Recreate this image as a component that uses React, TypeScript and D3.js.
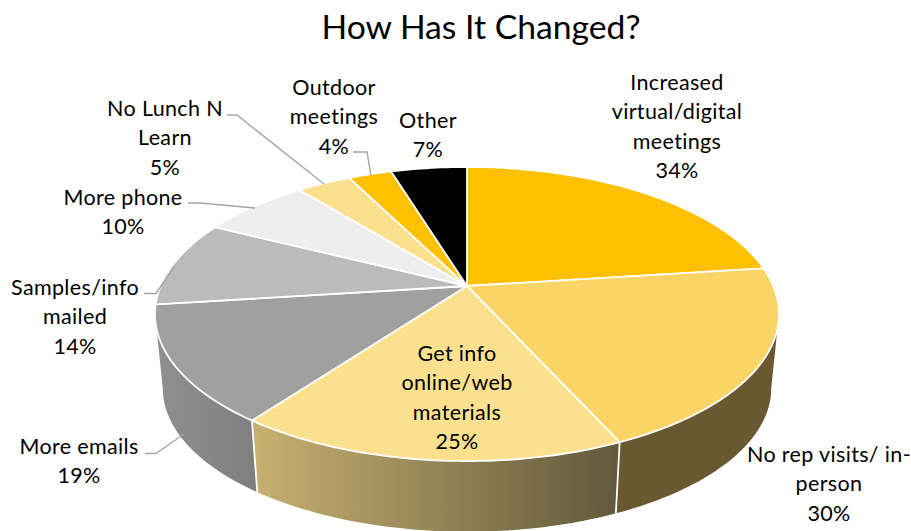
import React from "react";
import * as d3 from "d3";

const WIDTH = 911;
const HEIGHT = 531;

// Survey answers, in clockwise order from twelve o'clock
const categories = [
  "Increased virtual/digital meetings",
  "No rep visits/ in-person",
  "Get info online/web materials",
  "More emails",
  "Samples/info mailed",
  "More phone",
  "No Lunch N Learn",
  "Outdoor meetings",
  "Other",
];
const percents = [34, 30, 25, 19, 14, 10, 5, 4, 7];
const labelLines = [
  ["Increased", "virtual/digital", "meetings"],
  ["No rep visits/ in-", "person"],
  ["Get info", "online/web", "materials"],
  ["More emails"],
  ["Samples/info", "mailed"],
  ["More phone"],
  ["No Lunch N", "Learn"],
  ["Outdoor", "meetings"],
  ["Other"],
];

// Face colours per slice
const topColors = ["#FFC000", "#FAD566", "#FBE08D", "#A0A0A0", "#BBBBBB", "#EEEEEE", "#FBE08D", "#FFC000", "#000000"];

// Label anchor: centre x and baseline of the first line
const labelX = [677, 829, 457, 79, 75, 123, 165, 334, 428];
const labelY = [90, 462, 361, 454, 295, 205, 116, 95, 128];
const LINE_HEIGHT = 29.4;
const LABEL_SIZE = 21.5;

// Leader lines run from label to slice
const leaders: [number, number][][] = [
  [[145, 453.5], [156, 453.5], [184, 434]],
  [[144, 293.5], [156, 293.5], [175, 265]],
  [[188, 203], [200, 203], [255, 208]],
  [[227, 115], [237, 115], [324, 184]],
  [[353, 152], [367, 152], [371, 176]],
];

// Tilted-disc projection: a unit circle (u right, v toward the viewer)
// seen in perspective, so the apex sits above the middle of the ellipse.
const CX = 467;
const CY = 286;
const SCALE_X = 306.3;
const SCALE_Y = 141.7;
const KEYSTONE = 0.1905;
const DROP = 75;
const BASE_SCALE = 0.975;

// Angles where the rim is at its widest; the side wall is only seen between them
const WALL_START = Math.acos(-KEYSTONE);
const WALL_END = 2 * Math.PI - WALL_START;

type Pt = [number, number];

const project = (angle: number): Pt => {
  const u = Math.sin(angle);
  const v = -Math.cos(angle);
  const w = 1 - KEYSTONE * v;
  return [CX + (SCALE_X * u) / w, CY + (SCALE_Y * v) / w];
};

const projectBase = (angle: number): Pt => {
  const [x, y] = project(angle);
  return [CX + (x - CX) * BASE_SCALE, CY + (y - CY) * BASE_SCALE + DROP];
};

const arcSamples = (a0: number, a1: number, toPoint: (a: number) => Pt): Pt[] => {
  const n = Math.max(4, Math.ceil((a1 - a0) / 0.02));
  return d3.range(n + 1).map((i) => toPoint(a0 + ((a1 - a0) * i) / n));
};

const lineGen = d3.line<Pt>();
const pieGen = d3.pie<number>().sort(null).value((d) => d);

export default function App() {
  const slices = pieGen(percents);
  const wallFills = [null, "#695830", "url(#wallGold)", "url(#wallGrey)"];

  return (
    <svg
      width={WIDTH}
      height={HEIGHT}
      viewBox={`0 0 ${WIDTH} ${HEIGHT}`}
      style={{ position: "absolute", left: 0, top: 0, background: "#fff" }}
      fontFamily="Lato, Carlito, sans-serif"
    >
      <defs>
        <linearGradient id="wallGold" gradientUnits="userSpaceOnUse" x1={258} x2={617} y1={0} y2={0}>
          <stop offset="0" stopColor="#C6AF70" />
          <stop offset="1" stopColor="#625A3C" />
        </linearGradient>
        <linearGradient id="wallGrey" gradientUnits="userSpaceOnUse" x1={160} x2={258} y1={0} y2={0}>
          <stop offset="0" stopColor="#8F8F8F" />
          <stop offset="1" stopColor="#7F7F7F" />
        </linearGradient>
      </defs>

      <text x={481} y={39} textAnchor="middle" fontSize={33.7} fill="#000">
        How Has It Changed?
      </text>

      {/* side walls, drawn first so the top face hides their back part */}
      {slices.map((s, i) => {
        const fill = wallFills[i];
        if (!fill) return null;
        const a0 = Math.max(s.startAngle, WALL_START);
        const a1 = Math.min(s.endAngle, WALL_END);
        const rim = arcSamples(a0, a1, project);
        const base = arcSamples(a0, a1, projectBase).reverse();
        return (
          <path
            key={categories[i] + "-wall"}
            d={(lineGen([...rim, ...base]) ?? "") + "Z"}
            fill={fill}
          />
        );
      })}

      {/* white seams where the visible wall panels meet */}
      {slices.slice(1, 3).map((s) => (
        <path
          key={s.index}
          d={lineGen([project(s.endAngle), projectBase(s.endAngle)]) ?? ""}
          stroke="#fff"
          strokeWidth={1.8}
        />
      ))}

      {/* top face */}
      {slices.map((s, i) => {
        const rim = arcSamples(s.startAngle, s.endAngle, project);
        const pts: Pt[] = [[CX, CY], ...rim];
        return (
          <path
            key={categories[i]}
            d={(lineGen(pts) ?? "") + "Z"}
            fill={topColors[i]}
            stroke="#fff"
            strokeWidth={1.8}
            strokeLinejoin="round"
          />
        );
      })}

      {leaders.map((pts, i) => (
        <path key={i} d={lineGen(pts) ?? ""} fill="none" stroke="#A6A6A6" strokeWidth={1.4} />
      ))}

      {categories.map((c, i) => (
        <text key={c + "-label"} textAnchor="middle" fontSize={LABEL_SIZE} letterSpacing={0.35} fill="#000">
          {[...labelLines[i], `${percents[i]}%`].map((line, j) => (
            <tspan key={j} x={labelX[i]} y={labelY[i] + j * LINE_HEIGHT}>
              {line}
            </tspan>
          ))}
        </text>
      ))}
    </svg>
  );
}
